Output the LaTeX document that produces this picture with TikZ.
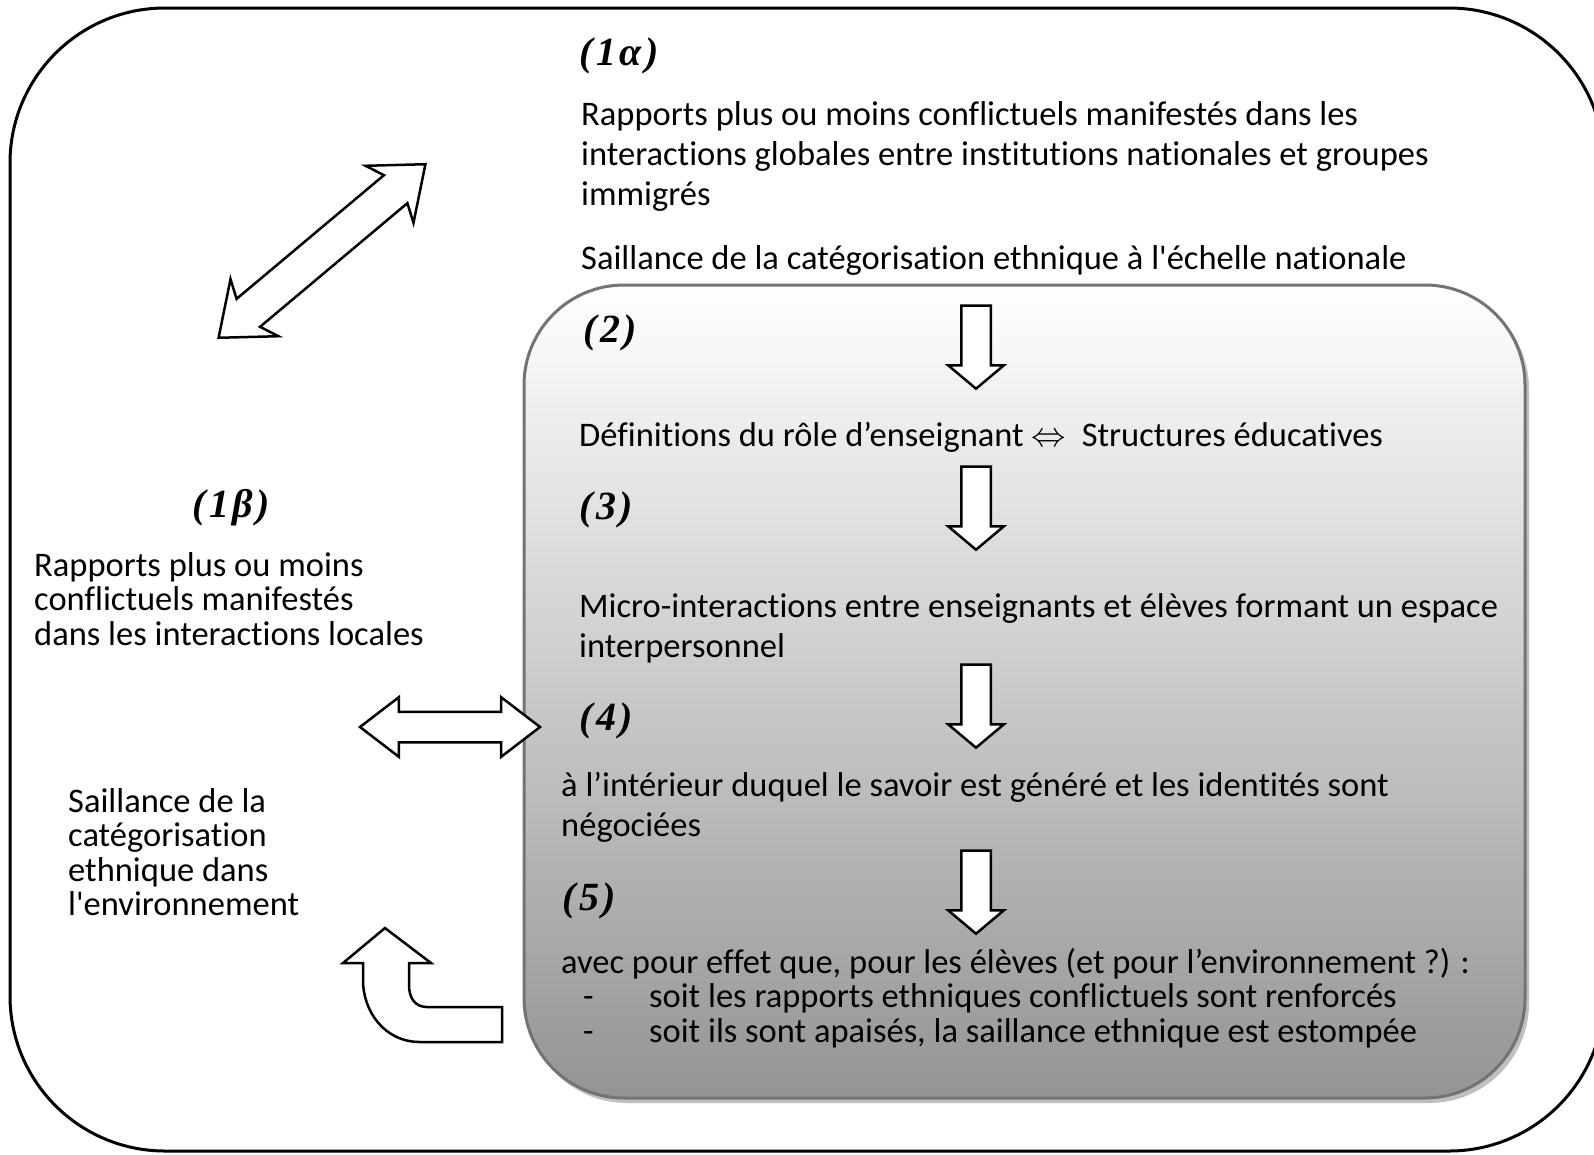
\RequirePackage{fix-cm}
\documentclass[tikz,border=0pt]{standalone}
\usepackage{fontspec}
\setmainfont{Carlito}[Ligatures={NoCommon}]
\newfontfamily\numfont{Liberation Serif}[LetterSpace=9]
\usetikzlibrary{shapes.arrows}
\tikzset{
  txt/.style={anchor=north west, inner sep=0pt, align=left, font=\fontsize{34.5}{40}\selectfont},
  txttight/.style={txt, font=\fontsize{34.5}{34.5}\selectfont},
  num/.style={anchor=west, inner sep=0pt, font=\fontsize{40}{40}\selectfont\numfont\bfseries\itshape},
  downarrow/.style={single arrow, draw=black, line width=2.5pt, fill=white, rotate=-90,
    minimum height=83pt, minimum width=0pt, inner xsep=0pt, inner ysep=13.5pt,
    single arrow head extend=13pt, single arrow tip angle=100},
  bothways/.style={double arrow, draw=black, line width=2.5pt, fill=white,
    minimum width=0pt, inner xsep=0pt},
  blockarrow/.style={draw=black, line width=2.5pt, fill=white, line join=miter}
}
\begin{document}
\begin{tikzpicture}[x=1pt,y=-1pt]
\useasboundingbox (0,0) rectangle (1594,1154);
% Frames
\draw [line width=3pt, rounded corners=155pt] (10,8) rectangle (1604,1151);
\fill [black!25, rounded corners=100pt] (527,289) rectangle (1529,1103);
\shade [top color=white, middle color=black!13, bottom color=black!42, rounded corners=100pt] (524,285) rectangle (1525,1098);
\draw [black!55, line width=3pt, rounded corners=100pt] (524,285) rectangle (1525,1098);
% Global level
\node[num] (n1a) at (579,56) {(1α)};
\node[txt] (glob) at (581,97) {\strut Rapports plus ou moins conflictuels manifestés dans les\\
  interactions globales entre institutions nationales et groupes\\ immigrés};
\node[txt] (natio) at (581,241) {\strut Saillance de la catégorisation ethnique à l\textquotesingle échelle nationale};
% Inner chain
\node[num] (n2) at (583,333) {(2)};
\node[downarrow] (a1) at (976,341) {};
\node[txt] (defs) at (579,418) {\strut Définitions du rôle d’enseignant $\Leftrightarrow$\ \ Structures éducatives};
\node[downarrow] (a2) at (976,502) {};
\node[num] (n3) at (579,510) {(3)};
\node[txt] (micro) at (579,589) {\strut Micro-interactions entre enseignants et élèves formant un espace\\ interpersonnel};
\node[downarrow] (a3) at (976,700) {};
\node[num] (n4) at (579,721) {(4)};
\node[txt] (savoir) at (561,768) {\strut à l’intérieur duquel le savoir est généré et les identités sont\\ négociées};
\node[downarrow] (a4) at (976,886) {};
\node[num] (n5) at (562,901) {(5)};
\node[txttight] (effet) at (561,948) {\strut avec pour effet que, pour les élèves (et pour l’environnement ?) :\\
  \makebox[88pt][l]{\hspace{22pt}-}soit les rapports ethniques conflictuels sont renforcés\\
  \makebox[88pt][l]{\hspace{22pt}-}soit ils sont apaisés, la saillance ethnique est estompée};
% Local level
\node[num] (n1b) at (192,508) {(1β)};
\node[txttight] (local) at (34,552) {\strut Rapports plus ou moins\\ conflictuels manifestés\\ dans les interactions locales};
\node[txttight] (envir) at (68,788) {\strut Saillance de la\\ catégorisation\\ ethnique dans\\ l\textquotesingle environnement};
% Block arrows
\node[bothways, rotate=40, minimum height=270pt, inner ysep=17pt,
  double arrow head extend=19pt, double arrow tip angle=77, double arrow head indent=8pt] (diag) at (322,251) {};
\node[bothways, minimum height=180pt, inner ysep=14pt,
  double arrow head extend=14.5pt, double arrow tip angle=75] (horiz) at (450,727) {};
\draw[blockarrow] (385,928) -- (431,963) -- (409,963) -- (409,985)
  .. controls (409,998) and (415,1007) .. (427,1007) -- (502,1007) -- (502,1042) -- (420,1042)
  .. controls (385,1042) and (363,1012) .. (363,980) -- (363,963) -- (343,963) -- cycle;
\end{tikzpicture}
\end{document}
